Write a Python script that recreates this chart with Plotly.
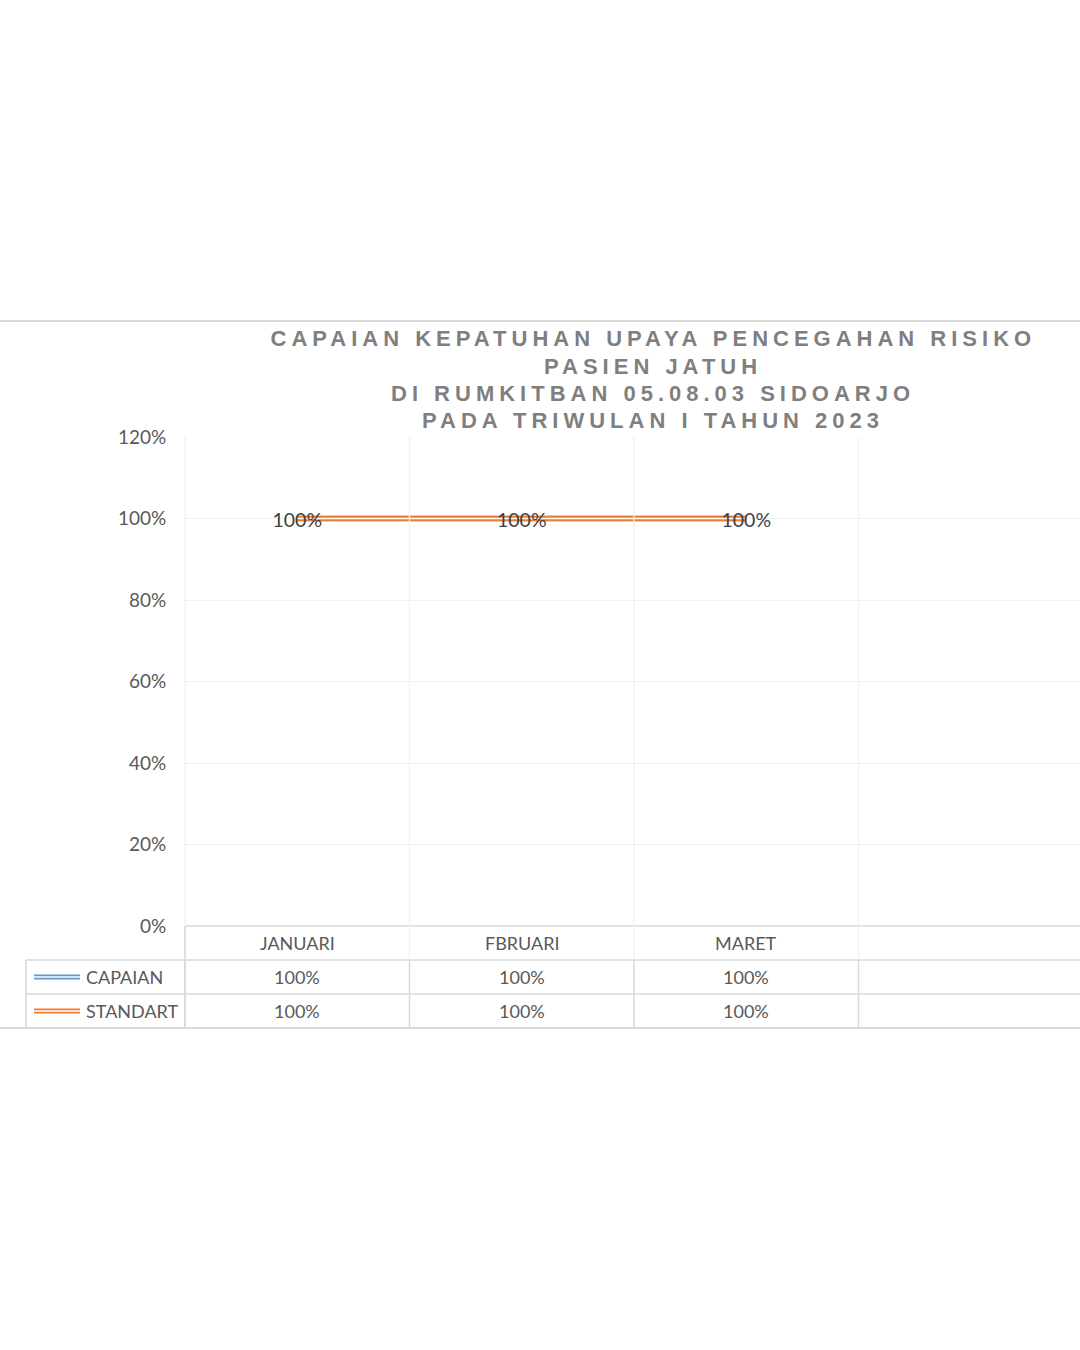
import json
import plotly.graph_objects as go

# ---- data ----
months = ["JANUARI", "FBRUARI", "MARET"]
capaian = [1.0, 1.0, 1.0]
standart = [1.0, 1.0, 1.0]
series_names = ["CAPAIAN", "STANDART"]
title_lines = [
    "CAPAIAN KEPATUHAN UPAYA PENCEGAHAN RISIKO",
    "PASIEN JATUH",
    "DI RUMKITBAN 05.08.03 SIDOARJO",
    "PADA TRIWULAN I TAHUN 2023",
]
y_ticks = [0, 0.2, 0.4, 0.6, 0.8, 1.0, 1.2]

# ---- style / layout constants ----
W, H = 1080, 1350
L, R, T, B = 185, 0, 437, 424
plot_w = W - L - R
plot_h = H - T - B
XMIN, XMAX = -0.5, -0.5 + plot_w / 224.5
BLUE = "#5B9BD5"
ORANGE = "#ED7D31"
TXT = "#595959"
BORDER = "#D9D9D9"
GRID = "#F0F0F0"
FONT = "Lato"


def py(pix):  # pixel row -> paper y
    return (H - B - pix) / plot_h


def px(pix):  # pixel col -> paper x
    return (pix - L) / plot_w


def cat_paper(v):  # category coordinate -> paper x
    return (v - XMIN) / (XMAX - XMIN)


fig = go.Figure()

# double lines: thick colour + thin white core
for name, vals, col in [(series_names[0], capaian, BLUE), (series_names[1], standart, ORANGE)]:
    fig.add_trace(go.Scatter(x=months, y=vals, mode="lines", line=dict(color=col, width=5.5),
                             name=name, showlegend=False, hoverinfo="skip"))
    fig.add_trace(go.Scatter(x=months, y=vals, mode="lines", line=dict(color="white", width=1.5),
                             showlegend=False, hoverinfo="skip"))

# data labels
fig.add_trace(go.Scatter(x=months, y=standart, mode="text",
                         text=[f"{v:.0%}" for v in standart], textposition="middle center",
                         textfont=dict(family=FONT, size=19.5, color="#404040"),
                         showlegend=False, hoverinfo="skip"))

shapes = []


def hline(y_pix, x0_pix, x1_pix, color=BORDER, width=1.5):
    shapes.append(dict(type="line", xref="paper", yref="paper", x0=px(x0_pix), x1=px(x1_pix),
                       y0=py(y_pix), y1=py(y_pix), line=dict(color=color, width=width), layer="above"))


def vline(x_paper, y0_pix, y1_pix, color=BORDER, width=1.5):
    shapes.append(dict(type="line", xref="paper", yref="paper", x0=x_paper, x1=x_paper,
                       y0=py(y0_pix), y1=py(y1_pix), line=dict(color=color, width=width), layer="above"))


# chart border top/bottom
hline(321, 0, W, width=2)
hline(1028, 0, W, width=2)
# table horizontals
hline(926, L, W)
hline(960, 26, W)
hline(994, 26, W)
# verticals: plot area gridlines (light) + table cells
for k in range(len(months) + 1):
    xp = cat_paper(k - 0.5)
    vline(xp, 437, 960, color=GRID, width=1.2)
    vline(xp, 960, 1028)
vline(cat_paper(-0.5), 926, 1028)
vline(px(26), 960, 1028)

# legend keys (double lines)
for y_pix, col in [(977, BLUE), (1011, ORANGE)]:
    shapes.append(dict(type="line", xref="paper", yref="paper", x0=px(34), x1=px(80),
                       y0=py(y_pix), y1=py(y_pix), line=dict(color=col, width=5), layer="above"))
    shapes.append(dict(type="line", xref="paper", yref="paper", x0=px(34), x1=px(80),
                       y0=py(y_pix), y1=py(y_pix), line=dict(color="white", width=1.3), layer="above"))

annotations = []
# title, one annotation per line (27px line pitch)
for j, line in enumerate(title_lines):
    annotations.append(dict(text=line, xref="paper", yref="paper",
                            x=px(653), y=py(339 + 27.3 * j), xanchor="center", yanchor="middle",
                            showarrow=False, align="center",
                            font=dict(family="Liberation Sans", size=22, color="#7F7F7F", weight="bold")))
# table header + values
for i, m in enumerate(months):
    annotations.append(dict(text=m, xref="x", yref="paper", x=m, y=py(943), showarrow=False,
                            xanchor="center", yanchor="middle", font=dict(family=FONT, size=18, color=TXT)))
    for y_pix, vals in [(977, capaian), (1011, standart)]:
        annotations.append(dict(text=f"{vals[i]:.0%}", xref="x", yref="paper", x=m, y=py(y_pix),
                                showarrow=False, xanchor="center", yanchor="middle",
                                font=dict(family=FONT, size=18, color=TXT)))
# legend names
for y_pix, nm in [(977, series_names[0]), (1011, series_names[1])]:
    annotations.append(dict(text=nm, xref="paper", yref="paper", x=px(84), y=py(y_pix), showarrow=False,
                            xanchor="left", yanchor="middle", font=dict(family=FONT, size=18, color=TXT)))

fig.update_layout(
    width=W, height=H,
    margin=dict(l=L, r=R, t=T, b=B),
    paper_bgcolor="white", plot_bgcolor="white",
    showlegend=False,
    shapes=shapes, annotations=annotations,
    xaxis=dict(type="category", range=[XMIN, XMAX], showticklabels=False, showgrid=False,
               zeroline=False, showline=False, fixedrange=True),
    yaxis=dict(range=[0, 1.2], tickvals=y_ticks, tickformat=".0%", showgrid=True, gridcolor=GRID,
               gridwidth=1, zeroline=False, showline=False, ticks="outside", ticklen=14,
               tickcolor="rgba(0,0,0,0)", tickfont=dict(family=FONT, size=19, color=TXT), fixedrange=True),
)

post = """
var gd = document.getElementById('{plot_id}');
var tl = %s;
gd.querySelectorAll('text').forEach(function(t){
  if (tl.indexOf(t.textContent) >= 0) { t.style.letterSpacing = '5px'; }
  if (t.textContent === '100%%' && t.closest('.scatterlayer')) { t.setAttribute('dy', '0.2em'); }
});
""" % json.dumps(title_lines)
fig.write_html("out.html", post_script=post)
